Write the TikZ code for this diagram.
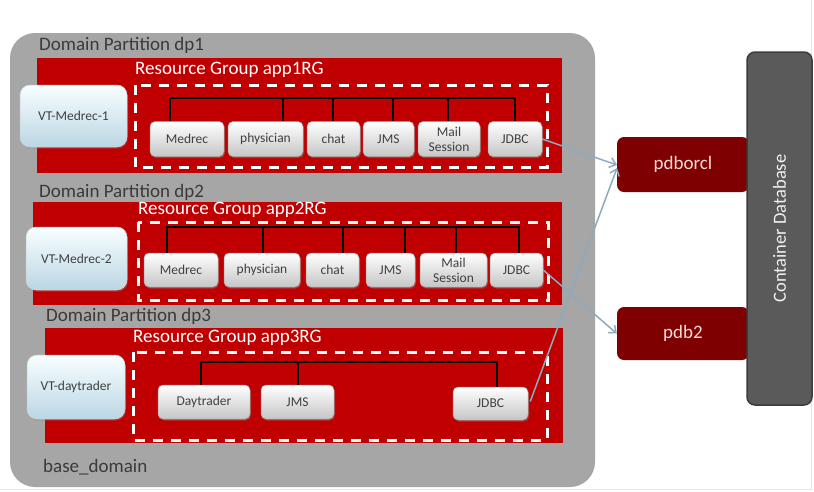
\documentclass[tikz,border=0pt]{standalone}
\usepackage{fontspec}
\setmainfont{Carlito}
\usetikzlibrary{arrows.meta,shadows}
\definecolor{bggray}{HTML}{A6A6A6}
\definecolor{rgred}{HTML}{C00000}
\definecolor{dbred}{HTML}{7F0000}
\definecolor{dbtext}{HTML}{F2DCDB}
\definecolor{cdbgray}{HTML}{5A5A5A}
\definecolor{cdbedge}{HTML}{3C3C3C}
\definecolor{lbltext}{HTML}{3A3A3A}
\definecolor{boxtext}{HTML}{404040}
\definecolor{arrowblue}{HTML}{8DAABF}
\definecolor{framegray}{HTML}{E4E4E4}
\tikzset{
  biglabel/.style={anchor=west, inner sep=0pt, text=lbltext, font=\fontsize{19}{22}\selectfont},
  rglabel/.style={anchor=west, inner sep=0pt, text=white, font=\fontsize{19}{22}\selectfont},
  partbox/.style={fill=rgred, draw=none},
  dashbox/.style={draw=white, line width=3pt, dash pattern=on 10pt off 8pt},
  compbox/.style={draw=gray!70, line width=0.5pt, rounded corners=5pt, top color=white, bottom color=gray!45,
    text=boxtext, font=\fontsize{13.5}{15}\selectfont, align=center, inner sep=1pt,
    drop shadow={shadow xshift=1pt, shadow yshift=-1.5pt, opacity=0.45}},
  vtbox/.style={draw=gray!35, line width=0.5pt, rounded corners=10pt, top color=blue!2!cyan!3!white, bottom color={rgb,255:red,188;green,214;blue,228},
    text=boxtext, font=\fontsize{13.5}{15}\selectfont, inner sep=1pt,
    drop shadow={shadow xshift=1pt, shadow yshift=-1.5pt, opacity=0.35}},
  dbbox/.style={fill=dbred, rounded corners=7pt, text=dbtext, font=\fontsize{19}{22}\selectfont},
  bus/.style={draw=black, line width=1.5pt},
  link/.style={draw=arrowblue, line width=1.5pt, -{Straight Barb[length=6pt,width=10pt]}},
}
\begin{document}
\begin{tikzpicture}[x=1pt,y=-1pt]
\useasboundingbox (0,0) rectangle (814,491);
\fill[white] (0,0) rectangle (814,491);
\draw[framegray, line width=1pt] (811,0) -- (811,489) -- (0,489);

% base domain
\fill[bggray, rounded corners=25pt] (10,33) rectangle (595,487);
\node[biglabel] (dp1lbl) at (39,45) {Domain Partition dp1};
\node[biglabel] (dp2lbl) at (39,192) {Domain Partition dp2};
\node[biglabel] (dp3lbl) at (46,316) {Domain Partition dp3};
\node[biglabel] (baselbl) at (43,467) {base\_domain};

% partitions
\fill[partbox] (37,58) rectangle (562,173);
\fill[partbox] (33,202) rectangle (562,305);
\fill[partbox] (45,328) rectangle (563,443);

\node[rglabel] (rg1lbl) at (135,70) {Resource Group app1RG};
\node[rglabel] (rg2lbl) at (138,210) {Resource Group app2RG};
\node[rglabel] (rg3lbl) at (133,338) {Resource Group app3RG};

\draw[dashbox] (135,85) rectangle (547,167);
\draw[dashbox] (138,222) rectangle (548,300);
\draw[dashbox] (133,352) rectangle (547,440);

% virtual targets
\node[vtbox, minimum width=107pt, minimum height=62pt] (vt1) at (73.5,116) {VT-Medrec-1};
\node[vtbox, minimum width=101pt, minimum height=63pt] (vt2) at (76.5,258.5) {VT-Medrec-2};
\node[vtbox, minimum width=98pt, minimum height=64pt] (vt3) at (76,387) {VT-daytrader};

% dp1 components
\node[compbox, minimum width=74pt, minimum height=35pt] (m1) at (187,139) {Medrec};
\node[compbox, minimum width=75pt, minimum height=35pt] (p1) at (265.5,139) {physician};
\node[compbox, minimum width=53pt, minimum height=35pt] (c1) at (333.5,139) {chat};
\node[compbox, minimum width=51pt, minimum height=35pt] (s1) at (388.5,139) {JMS};
\node[compbox, minimum width=62pt, minimum height=35pt] (ms1) at (449,139) {Mail\\Session};
\node[compbox, minimum width=54pt, minimum height=35pt] (j1) at (515,139) {JDBC};

% dp2 components
\node[compbox, minimum width=74pt, minimum height=34pt] (m2) at (181,270) {Medrec};
\node[compbox, minimum width=76pt, minimum height=34pt] (p2) at (262,270) {physician};
\node[compbox, minimum width=53pt, minimum height=34pt] (c2) at (332.5,270) {chat};
\node[compbox, minimum width=49pt, minimum height=34pt] (s2) at (390.5,270) {JMS};
\node[compbox, minimum width=67pt, minimum height=34pt] (ms2) at (453.5,270) {Mail\\Session};
\node[compbox, minimum width=53pt, minimum height=34pt] (j2) at (516.5,270) {JDBC};

% dp3 components
\node[compbox, minimum width=92pt, minimum height=34pt] (d3) at (204,402) {Daytrader};
\node[compbox, minimum width=73pt, minimum height=34pt] (s3) at (297.5,402) {JMS};
\node[compbox, minimum width=75pt, minimum height=33pt] (j3) at (490.5,403.5) {JDBC};

% buses dp1
\coordinate (t1a) at (170,98);
\coordinate (t1b) at (283,98);
\coordinate (t1c) at (333,98);
\coordinate (t1d) at (393,98);
\coordinate (t1e) at (448,98);
\coordinate (t1f) at (515,98);
\draw[bus] (t1a |- m1.north) -- (t1a) -- (t1f) -- (t1f |- j1.north);
\draw[bus] (t1b) -- (t1b |- p1.north);
\draw[bus] (t1c) -- (t1c |- c1.north);
\draw[bus] (t1d) -- (t1d |- s1.north);
\draw[bus] (t1e) -- (t1e |- ms1.north);

% buses dp2
\coordinate (t2a) at (167,227);
\coordinate (t2b) at (263,227);
\coordinate (t2c) at (343,227);
\coordinate (t2d) at (405,227);
\coordinate (t2e) at (456,227);
\coordinate (t2f) at (519,227);
\draw[bus] (t2a |- m2.north) -- (t2a) -- (t2f) -- (t2f |- j2.north);
\draw[bus] (t2b) -- (t2b |- p2.north);
\draw[bus] (t2c) -- (t2c |- c2.north);
\draw[bus] (t2d) -- (t2d |- s2.north);
\draw[bus] (t2e) -- (t2e |- ms2.north);

% buses dp3
\coordinate (t3a) at (201,362);
\coordinate (t3b) at (298,362);
\coordinate (t3c) at (497,362);
\draw[bus] (t3a |- d3.north) -- (t3a) -- (t3c) -- (t3c |- j3.north);
\draw[bus] (t3b) -- (t3b |- s3.north);

% databases
\node[dbbox, minimum width=132pt, minimum height=55pt] (pdborcl) at (683,164.5) {pdborcl};
\node[dbbox, minimum width=132pt, minimum height=53pt] (pdb2) at (683,333.5) {pdb2};
\node[draw=cdbedge, line width=1.5pt, fill=cdbgray, rounded corners=8pt, minimum width=65pt, minimum height=353pt] (cdb) at (779.5,228.5) {};
\node[rotate=90, text=white!88!gray, font=\fontsize{18.5}{22}\selectfont] (cdblbl) at (cdb.center) {Container Database};

% links
\coordinate (pdbin) at (617,165);
\coordinate (pdbin3) at (617,168);
\draw[link] (j1.east) -- (pdbin);
\draw[link] (j2.east) -- (pdb2.west);
\draw[link] ([xshift=2pt,yshift=2pt]j3.east) -- (pdbin3);
\end{tikzpicture}
\end{document}
